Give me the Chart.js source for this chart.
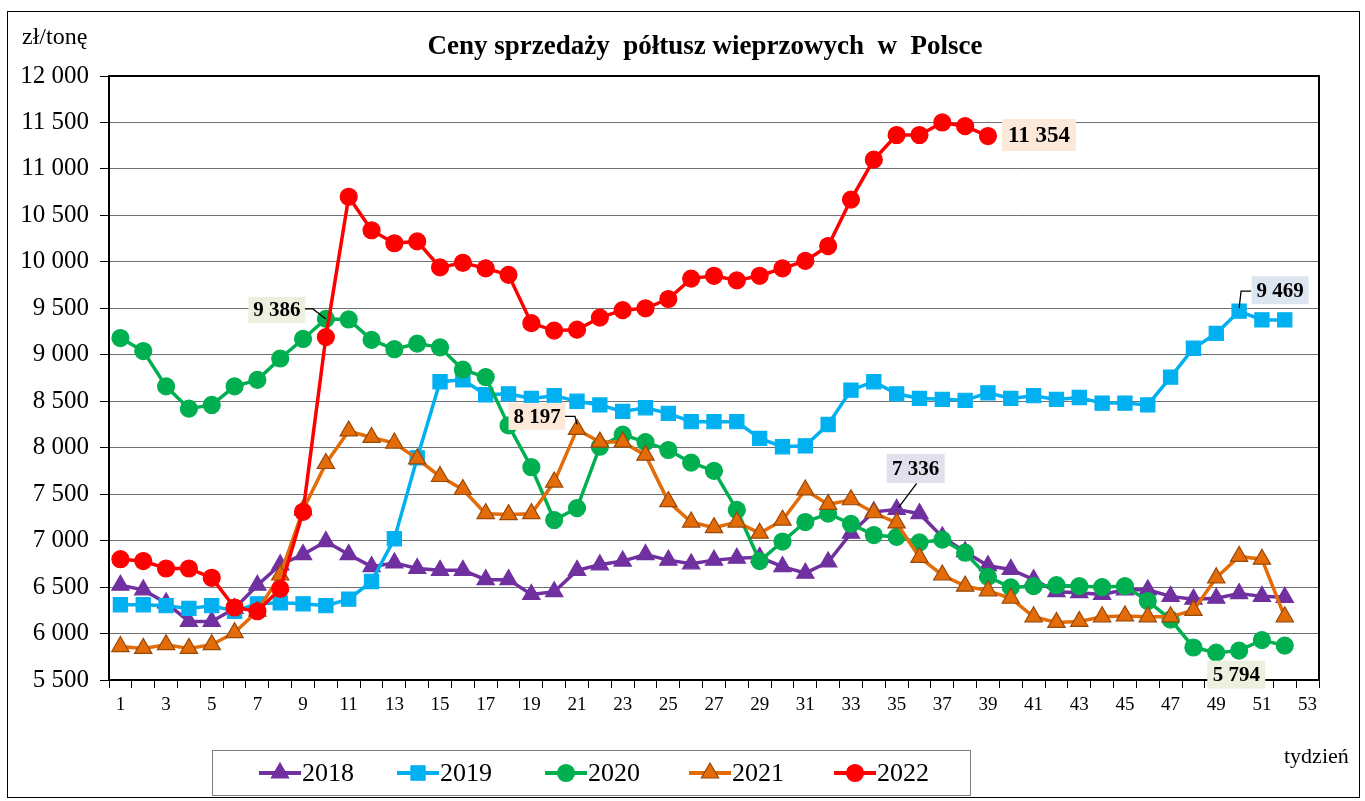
<!DOCTYPE html>
<html lang="pl">
<head>
<meta charset="utf-8">
<title>Ceny sprzedaży półtusz wieprzowych w Polsce</title>
<script src="https://cdn.jsdelivr.net/npm/chart.js@4.4.1/dist/chart.umd.min.js"></script>
<style>
  html, body { margin: 0; padding: 0; background: #fff; }
  #ramka { width: 1365px; height: 801px; }
</style>
</head>
<body>
<div id="ramka"><canvas id="wykres" width="1365" height="801"></canvas></div>
<script>
// tygodnie roku (etykiety osi X)
const tygodnie = ["1","2","3","4","5","6","7","8","9","10","11","12","13","14","15","16","17","18","19","20",
  "21","22","23","24","25","26","27","28","29","30","31","32","33","34","35","36","37","38","39","40",
  "41","42","43","44","45","46","47","48","49","50","51","52","53"];

// ceny w zł/tonę
const ceny2018 = [6520, 6470, 6330, 6130, 6130, 6270, 6520, 6740, 6850, 6990,
  6850, 6720, 6760, 6700, 6680, 6680, 6580, 6580, 6420, 6450,
  6680, 6740, 6780, 6850, 6790, 6750, 6790, 6810, 6820, 6720,
  6650, 6770, 7080, 7310, 7336, 7290, 7040, 6880, 6730, 6690,
  6580, 6450, 6440, 6420, 6470, 6470, 6400, 6370, 6380, 6430, 6400, 6390];
const ceny2019 = [6310, 6310, 6300, 6270, 6300, 6240, 6320, 6330, 6320, 6300,
  6370, 6560, 7020, 7890, 8710, 8730, 8570, 8580, 8530, 8560,
  8500, 8460, 8390, 8430, 8370, 8280, 8280, 8280, 8100, 8010,
  8020, 8250, 8620, 8710, 8580, 8530, 8520, 8510, 8590, 8530,
  8560, 8520, 8540, 8480, 8480, 8460, 8760, 9070, 9230, 9469, 9375, 9375];
const ceny2020 = [9180, 9040, 8660, 8420, 8460, 8660, 8730, 8960, 9170, 9386,
  9380, 9160, 9060, 9120, 9080, 8840, 8760, 8240, 7790, 7222,
  7350, 8010, 8140, 8060, 7975, 7840, 7750, 7330, 6780, 6990,
  7200, 7290, 7180, 7060, 7040, 6980, 7010, 6870, 6610, 6497,
  6510, 6520, 6510, 6500, 6510, 6350, 6150, 5850, 5794, 5816, 5930, 5870];
const ceny2021 = [5860, 5840, 5880, 5840, 5880, 6010, 6240, 6630, 7330, 7830,
  8180, 8110, 8050, 7880, 7690, 7550, 7290, 7280, 7290, 7630,
  8197, 8060, 8060, 7920, 7420, 7200, 7140, 7200, 7080, 7220,
  7545, 7390, 7440, 7300, 7190, 6820, 6630, 6510, 6460, 6380,
  6180, 6120, 6130, 6180, 6190, 6180, 6180, 6250, 6600, 6830, 6800, 6180];
const ceny2022 = [6800, 6780, 6700, 6700, 6600, 6280, 6240, 6480, 7310, 9190,
  10700, 10340, 10200, 10220, 9940, 9990, 9930, 9860, 9340, 9260,
  9270, 9400, 9480, 9500, 9600, 9820, 9850, 9800, 9850, 9930,
  10010, 10170, 10670, 11100, 11365, 11365, 11500, 11460, 11354];

const lata = ["2018", "2019", "2020", "2021", "2022"];

const CZCIONKA = "'Liberation Serif', 'Times New Roman', serif";

function formatujLiczbe(v) {
  return String(v).replace(/\B(?=(\d{3})+(?!\d))/g, " ");
}

const serie = [
  { label: lata[0], data: ceny2018, borderColor: "#7030A0", backgroundColor: "#7030A0", pointBorderColor: "#7030A0", pointStyle: "triangle", pointRadius: 10, order: 5 },
  { label: lata[1], data: ceny2019, borderColor: "#00B0F0", backgroundColor: "#00B0F0", pointBorderColor: "#00B0F0", pointStyle: "rect", pointRadius: 10, order: 4 },
  { label: lata[2], data: ceny2020, borderColor: "#00B050", backgroundColor: "#00B050", pointBorderColor: "#00B050", pointStyle: "circle", pointRadius: 8.5, order: 3 },
  { label: lata[3], data: ceny2021, borderColor: "#E36C09", backgroundColor: "#E36C09", pointBorderColor: "#984807", pointStyle: "triangle", pointRadius: 10, order: 2 },
  { label: lata[4], data: ceny2022, borderColor: "#FF0000", backgroundColor: "#FF0000", pointBorderColor: "#FF0000", pointStyle: "circle", pointRadius: 8.5, order: 1 },
].map((s) => ({ ...s, borderWidth: 3.5, pointBorderWidth: 1.2, pointBackgroundColor: s.backgroundColor, tension: 0, spanGaps: false }));

// opisy wybranych wartości: seria, tydzień, tło, przesunięcie ramki i linia odnośnika
const opisy = [
  { seria: 2, punkt: 9, tlo: "#EBF1DE", dx: -49, dy: -9, w: 57, h: 26, linia: [[-21, -10], [-13, -10], [0, 0]] },
  { seria: 3, punkt: 20, tlo: "#FDE9D9", dx: -40, dy: -13, w: 57, h: 27, linia: [[-12, -13], [-2, -13], [0, -5]] },
  { seria: 0, punkt: 34, tlo: "#E4DFEC", dx: 19, dy: -41, w: 58, h: 29, linia: [[20, -26], [2, -2]] },
  { seria: 1, punkt: 49, tlo: "#DCE6F1", dx: 41, dy: -21, w: 57, h: 28, linia: [[12, -20], [2, -20], [0, -3]] },
  { seria: 2, punkt: 48, tlo: "#EBF1DE", dx: 20, dy: 22, w: 58, h: 28, linia: null },
  { seria: 4, punkt: 38, tlo: "#FDE9D9", dx: 51, dy: -1, w: 74, h: 32, linia: null, rozmiar: 23 },
];

const dodatki = {
  id: "dodatki",
  beforeDraw(chart) {
    const ctx = chart.ctx;
    ctx.save();
    ctx.fillStyle = "#fff";
    ctx.fillRect(0, 0, chart.width, chart.height);
    ctx.strokeStyle = "#000";
    ctx.lineWidth = 1;
    ctx.strokeRect(7.5, 11.5, 1352, 786);
    ctx.restore();
  },
  beforeDatasetsDraw(chart) {
    const ctx = chart.ctx;
    const a = chart.chartArea;
    ctx.save();
    ctx.strokeStyle = "#000";
    ctx.lineWidth = 2;
    ctx.beginPath();
    ctx.moveTo(a.left, a.top);
    ctx.lineTo(a.right, a.top);
    ctx.lineTo(a.right, a.bottom);
    ctx.stroke();
    ctx.restore();
  },
  afterDraw(chart) {
    const ctx = chart.ctx;
    ctx.save();
    ctx.fillStyle = "#000";
    ctx.textBaseline = "middle";

    ctx.font = `bold 27px ${CZCIONKA}`;
    ctx.textAlign = "center";
    ctx.fillText("Ceny sprzedaży  półtusz wieprzowych  w  Polsce", 705, 47);

    ctx.font = `24px ${CZCIONKA}`;
    ctx.textAlign = "left";
    ctx.fillText("zł/tonę", 22, 38);
    ctx.font = `22px ${CZCIONKA}`;
    ctx.fillText("tydzień", 1284, 757);

    // opisy wartości
    ctx.textAlign = "center";
    opisy.forEach((o) => {
      const el = chart.getDatasetMeta(o.seria).data[o.punkt];
      const wartosc = chart.data.datasets[o.seria].data[o.punkt];
      const cx = el.x + o.dx;
      const cy = el.y + o.dy;
      ctx.fillStyle = o.tlo;
      ctx.fillRect(cx - o.w / 2, cy - o.h / 2, o.w, o.h);
      ctx.fillStyle = "#000";
      ctx.font = `bold ${o.rozmiar || 21}px ${CZCIONKA}`;
      ctx.fillText(formatujLiczbe(wartosc), cx, cy + 1);
      if (o.linia) {
        ctx.strokeStyle = "#000";
        ctx.lineWidth = 1.3;
        ctx.beginPath();
        o.linia.forEach(([px, py], i) => {
          if (i === 0) ctx.moveTo(el.x + px, el.y + py);
          else ctx.lineTo(el.x + px, el.y + py);
        });
        ctx.stroke();
      }
    });

    // legenda
    ctx.strokeStyle = "#7f7f7f";
    ctx.lineWidth = 1;
    ctx.strokeRect(212.5, 750.5, 758, 45);
    const znaczniki = [280, 418, 566, 710, 855];
    ctx.font = `26px ${CZCIONKA}`;
    ctx.textAlign = "left";
    chart.data.datasets.forEach((ds, i) => {
      const x = znaczniki[i];
      const y = 773;
      ctx.strokeStyle = ds.borderColor;
      ctx.lineWidth = 4;
      ctx.beginPath();
      ctx.moveTo(x - 21, y);
      ctx.lineTo(x + 21, y);
      ctx.stroke();
      ctx.fillStyle = ds.pointBackgroundColor;
      ctx.strokeStyle = ds.pointBorderColor;
      ctx.lineWidth = 1.2;
      Chart.helpers.drawPoint(ctx, { pointStyle: ds.pointStyle, radius: ds.pointRadius, borderWidth: 1.2, rotation: 0 }, x, y);
      ctx.fillStyle = "#000";
      ctx.fillText(ds.label, x + 22, y + 1);
    });
    ctx.restore();
  },
};

new Chart(document.querySelector("#wykres"), {
  type: "line",
  data: { labels: tygodnie, datasets: serie },
  options: {
    responsive: false,
    animation: false,
    layout: { padding: { left: 9, right: 46, top: 76, bottom: 81 } },
    plugins: { legend: { display: false }, title: { display: false }, tooltip: { enabled: false } },
    scales: {
      x: {
        type: "category",
        offset: true,
        afterFit: (skala) => { skala.height = 40; },
        grid: { display: true, drawOnChartArea: false, drawTicks: true, tickLength: 8, color: "#000", offset: true },
        border: { display: true, color: "#000", width: 2 },
        ticks: {
          autoSkip: false, maxRotation: 0, padding: 6, color: "#000",
          font: { family: CZCIONKA, size: 19 },
          callback: function (v, i) { return i % 2 === 0 ? this.getLabelForValue(v) : ""; },
        },
      },
      y: {
        min: 5500, max: 12000,
        afterFit: (skala) => { skala.width = 100; },
        grid: { color: "#6f6f6f", lineWidth: 1, tickLength: 9, tickColor: "#000" },
        border: { display: true, color: "#000", width: 2 },
        ticks: {
          stepSize: 500, padding: 11, color: "#000",
          font: { family: CZCIONKA, size: 25 },
          callback: (v) => formatujLiczbe(v),
        },
      },
    },
  },
  plugins: [dodatki],
});
</script>
</body>
</html>
